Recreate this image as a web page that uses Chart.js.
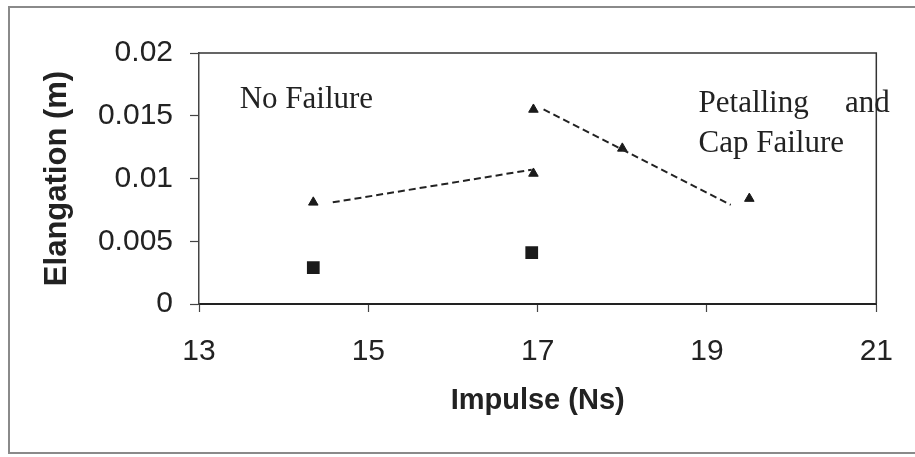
<!DOCTYPE html>
<html lang="en">

<head>
    <meta charset="UTF-8">
    <title>Elangation vs Impulse</title>
    <script src="https://cdn.jsdelivr.net/npm/chart.js@4"></script>
    <style>
        body {
            margin: 0;
            background: #fff;
        }

        #chartContainer {
            position: relative;
            width: 915px;
            height: 457px;
        }
    </style>
</head>

<body>
    <div id="chartContainer">
        <canvas id="impulseChart"></canvas>
    </div>

    <script>
        // triangles (failure points)
        const triImpulse = [14.35, 16.95, 16.95, 18.0, 19.5];
        const triElong = [0.0081, 0.0104, 0.0155, 0.0124, 0.0084];

        // squares
        const sqImpulse = [14.35, 16.93];
        const sqElong = [0.0029, 0.0041];

        // dashed trend lines (end points)
        const trend1Impulse = [14.58, 16.93];
        const trend1Elong = [0.0081, 0.0107];
        const trend2Impulse = [17.07, 19.28];
        const trend2Elong = [0.0155, 0.0079];

        // ticks
        const xTicks = [13, 15, 17, 19, 21];
        const yTicks = [0, 0.005, 0.01, 0.015, 0.02];
        const yTickLabels = ['0', '0.005', '0.01', '0.015', '0.02'];

        // text notes inside the plot, anchored in data units (left, baseline)
        const notes = [
            { text: 'No Failure', x: 13.48, y: 0.0156 },
            { text: 'Petalling', x: 18.9, y: 0.0153 },
            { text: 'and', x: 20.63, y: 0.0153 },
            { text: 'Cap Failure', x: 18.9, y: 0.0121 }
        ];

        const toPoints = (xs, ys) => xs.map((x, i) => ({ x: x, y: ys[i] }));

        // frame round the figure, box round the plot, notes
        const extras = {
            id: 'extras',
            beforeDraw(chart) {
                const c = chart.ctx;
                c.save();
                c.fillStyle = '#fff';
                c.fillRect(0, 0, chart.width, chart.height);
                c.strokeStyle = '#8a8a8a';
                c.lineWidth = 2;
                c.strokeRect(9, 7, 930, 446);
                c.restore();
            },
            afterDatasetsDraw(chart) {
                const c = chart.ctx;
                const a = chart.chartArea;
                const xs = chart.scales.x, ys = chart.scales.y;
                c.save();
                c.strokeStyle = '#333';
                c.lineWidth = 1.5;
                c.beginPath();
                c.moveTo(a.left, a.top);
                c.lineTo(a.right, a.top);
                c.lineTo(a.right, a.bottom);
                c.stroke();

                c.fillStyle = '#222';
                c.font = '31px "Liberation Serif", "Times New Roman", serif';
                c.textBaseline = 'alphabetic';
                c.textAlign = 'left';
                notes.forEach(n => {
                    c.fillText(n.text, xs.getPixelForValue(n.x), ys.getPixelForValue(n.y));
                });
                c.restore();
            }
        };

        const ctx = document.getElementById('impulseChart').getContext('2d');
        const impulseChart = new Chart(ctx, {
            type: 'scatter',
            data: {
                datasets: [{
                    label: 'Trend 1',
                    data: toPoints(trend1Impulse, trend1Elong),
                    showLine: true,
                    borderColor: '#222',
                    borderWidth: 2,
                    borderDash: [7, 4],
                    pointRadius: 0
                }, {
                    label: 'Trend 2',
                    data: toPoints(trend2Impulse, trend2Elong),
                    showLine: true,
                    borderColor: '#222',
                    borderWidth: 2,
                    borderDash: [7, 4],
                    pointRadius: 0
                }, {
                    label: 'Failure',
                    data: toPoints(triImpulse, triElong),
                    pointStyle: 'triangle',
                    pointRadius: 5.5,
                    backgroundColor: '#1a1a1a',
                    borderColor: '#1a1a1a',
                    borderWidth: 1
                }, {
                    label: 'No failure',
                    data: toPoints(sqImpulse, sqElong),
                    pointStyle: 'rect',
                    pointRadius: 9,
                    backgroundColor: '#1a1a1a',
                    borderColor: '#1a1a1a',
                    borderWidth: 0
                }]
            },
            options: {
                responsive: true,
                maintainAspectRatio: false,
                animation: false,
                layout: {
                    padding: { left: 0, right: 37, top: 53, bottom: 0 }
                },
                scales: {
                    x: {
                        type: 'linear',
                        min: 13,
                        max: 21,
                        afterBuildTicks: s => { s.ticks = xTicks.map(v => ({ value: v })); },
                        afterFit: s => { s.height = 153; },
                        grid: {
                            drawOnChartArea: false,
                            drawTicks: true,
                            tickLength: 8,
                            tickWidth: 1.2,
                            tickColor: '#444'
                        },
                        border: { display: true, color: '#222', width: 2 },
                        ticks: {
                            padding: 22,
                            color: '#222',
                            maxRotation: 0,
                            font: { family: '"Liberation Sans", Arial, sans-serif', size: 30 }
                        },
                        title: {
                            display: true,
                            text: 'Impulse (Ns)',
                            color: '#222',
                            padding: { top: 0, bottom: 39 },
                            font: { family: '"Liberation Sans", Arial, sans-serif', size: 29, weight: 'bold' }
                        }
                    },
                    y: {
                        type: 'linear',
                        min: 0,
                        max: 0.02,
                        afterBuildTicks: s => { s.ticks = yTicks.map(v => ({ value: v })); },
                        afterFit: s => { s.width = 199; },
                        grid: {
                            drawOnChartArea: false,
                            drawTicks: true,
                            tickLength: 9,
                            tickWidth: 1.2,
                            tickColor: '#444'
                        },
                        border: { display: true, color: '#444', width: 1.5 },
                        ticks: {
                            padding: 17,
                            color: '#222',
                            font: { family: '"Liberation Sans", Arial, sans-serif', size: 30 },
                            callback: function (value) {
                                const i = yTicks.indexOf(value);
                                return i >= 0 ? yTickLabels[i] : '';
                            }
                        },
                        title: {
                            display: true,
                            text: 'Elangation (m)',
                            color: '#222',
                            padding: { top: 39, bottom: 0 },
                            font: { family: '"Liberation Sans", Arial, sans-serif', size: 31, weight: 'bold' }
                        }
                    }
                },
                plugins: {
                    legend: { display: false },
                    tooltip: { enabled: false }
                }
            },
            plugins: [extras]
        });
    </script>
</body>

</html>
